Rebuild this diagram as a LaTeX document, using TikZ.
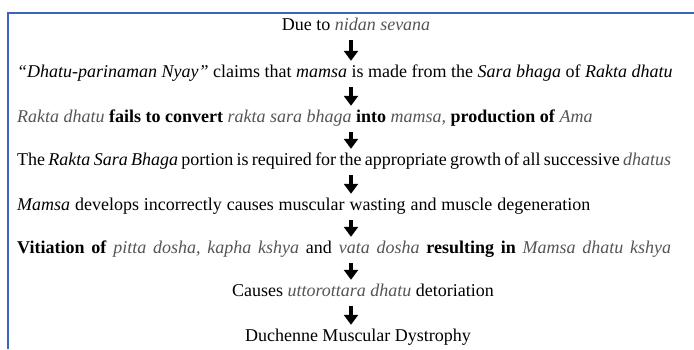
\documentclass[tikz,border=0pt]{standalone}
\usepackage{fontspec}
\setmainfont{Liberation Serif}
\usetikzlibrary{arrows.meta}
\definecolor{framecol}{RGB}{60,100,190}
\definecolor{txtgrey}{RGB}{85,85,85}
\newcommand{\greyit}[1]{\textcolor{txtgrey}{\textit{#1}}}
\begin{document}
\begin{tikzpicture}[x=1pt,y=-1pt,
  txt/.style={inner sep=0pt, text height=12pt, text depth=4pt, font=\fontsize{18}{21}\selectfont},
  ctr/.style={txt, anchor=base},
  lft/.style={txt, anchor=base west},
  blockarrow/.style={line width=4.5pt, -{Triangle[width=14pt,length=10pt]}, shorten <=6pt, shorten >=4pt},
  framestyle/.style={draw=framecol, line width=2pt}]
\useasboundingbox (0,0) rectangle (694,349);
\draw[framestyle] (694,13) -- (8,13) -- (8,349);
\coordinate (ax) at (351,0);
\node[ctr] (l1) at (356,30) {Due to \greyit{nidan sevana}};
\node[lft] (l2) at (17,77) {\textit{“Dhatu-parinaman Nyay”} claims that \textit{mamsa} is made from the \textit{Sara bhaga} of \textit{Rakta dhatu}};
\node[lft] (l3) at (17,122) {\greyit{Rakta dhatu} \textbf{fails to convert} \greyit{rakta sara bhaga} \textbf{into} \greyit{mamsa,} \textbf{production of} \greyit{Ama}};
\node[lft] (l4) at (17,165) {\spaceskip=3.3pt The \textit{Rakta Sara Bhaga} portion is required for the appropriate growth of all successive \greyit{dhatus}};
\node[lft] (l5) at (17,210) {\spaceskip=4.9pt \textit{Mamsa} develops incorrectly causes muscular wasting and muscle degeneration};
\node[lft] (l6) at (17,253) {\spaceskip=6.8pt \textbf{Vitiation of} \greyit{pitta dosha, kapha kshya} and \greyit{vata dosha} \textbf{resulting in} \greyit{Mamsa dhatu kshya}};
\node[ctr] (l7) at (363,296) {Causes \greyit{uttorottara dhatu} detoriation};
\node[ctr] (l8) at (358,341) {Duchenne Muscular Dystrophy};
\draw[blockarrow] (l1.south -| ax) -- (l2.north -| ax);
\draw[blockarrow] (l2.south -| ax) -- (l3.north -| ax);
\draw[blockarrow] (l3.south -| ax) -- (l4.north -| ax);
\draw[blockarrow] (l4.south -| ax) -- (l5.north -| ax);
\draw[blockarrow] (l5.south -| ax) -- (l6.north -| ax);
\draw[blockarrow] (l6.south -| ax) -- (l7.north -| ax);
\draw[blockarrow] (l7.south -| ax) -- (l8.north -| ax);
\end{tikzpicture}
\end{document}
